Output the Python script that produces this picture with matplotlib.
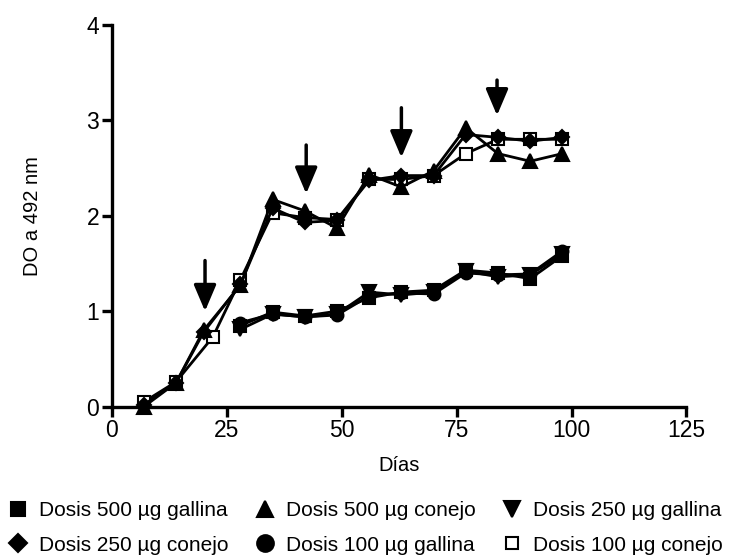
import matplotlib
matplotlib.use("Agg")
import matplotlib.pyplot as plt
from matplotlib.lines import Line2D

plt.rcParams['font.family'] = ['Liberation Sans', 'DejaVu Sans']

# ---- data ----
days_conejo = [7, 14, 20, 28, 35, 42, 49, 56, 63, 70, 77, 84, 91, 98]
days_conejo_100 = [7, 14, 22, 28, 35, 42, 49, 56, 63, 70, 77, 84, 91, 98]
days_gallina = [28, 35, 42, 49, 56, 63, 70, 77, 84, 91, 98]

conejo_500 = [0.00, 0.25, 0.80, 1.27, 2.17, 2.05, 1.87, 2.43, 2.30, 2.47, 2.92, 2.65, 2.57, 2.65]
conejo_250 = [0.02, 0.25, 0.78, 1.28, 2.08, 1.93, 1.95, 2.37, 2.42, 2.42, 2.85, 2.82, 2.78, 2.82]
conejo_100 = [0.05, 0.26, 0.73, 1.33, 2.03, 1.98, 1.96, 2.38, 2.38, 2.42, 2.65, 2.80, 2.80, 2.80]

gallina_500 = [0.85, 0.99, 0.95, 1.00, 1.14, 1.20, 1.22, 1.43, 1.40, 1.34, 1.58]
gallina_250 = [0.81, 0.97, 0.94, 0.97, 1.20, 1.17, 1.20, 1.42, 1.36, 1.38, 1.60]
gallina_100 = [0.88, 0.97, 0.94, 0.96, 1.16, 1.19, 1.18, 1.40, 1.38, 1.39, 1.63]

# booster arrows: day, top, tip
arrow_days = [20.3, 42.3, 63.0, 83.8]
arrow_top = [1.53, 2.74, 3.13, 3.42]
arrow_tip = [1.00, 2.23, 2.61, 3.05]

labels = ["Dosis 500 \u00b5g gallina", "Dosis 500 \u00b5g conejo", "Dosis 250 \u00b5g gallina",
          "Dosis 250 \u00b5g conejo", "Dosis 100 \u00b5g gallina", "Dosis 100 \u00b5g conejo"]

fig = plt.figure(figsize=(7.47, 5.59), dpi=100)
ax = fig.add_axes([0.1495, 0.2725, 0.7695, 0.6833])

series = [
    (days_gallina, gallina_500, 's', 'black', 8.5),
    (days_gallina, gallina_250, 'v', 'black', 9.5),
    (days_gallina, gallina_100, 'o', 'black', 8.5),
    (days_conejo_100, conejo_100, 's', 'white', 8.5),
    (days_conejo, conejo_250, 'D', 'black', 7.5),
    (days_conejo, conejo_500, '^', 'black', 9.5),
]
for x, y, m, fc, ms in series:
    ax.plot(x, y, color='black', lw=2.0, marker=m, markersize=ms,
            markerfacecolor=fc, markeredgecolor='black', markeredgewidth=1.5,
            clip_on=False)

for d, t, b in zip(arrow_days, arrow_top, arrow_tip):
    ax.annotate("", xy=(d, b), xytext=(d, t),
                arrowprops=dict(arrowstyle="-|>,head_length=0.8,head_width=0.34",
                                mutation_scale=20, lw=2.5, color='black',
                                shrinkA=0, shrinkB=0))

ax.set_xlim(0, 125)
ax.set_ylim(0, 4)
ax.set_xticks([0, 25, 50, 75, 100, 125])
ax.set_yticks([0, 1, 2, 3, 4])
for s in ['top', 'right']:
    ax.spines[s].set_visible(False)
for s in ['left', 'bottom']:
    ax.spines[s].set_linewidth(2.4)
ax.tick_params(direction='out', length=7, width=2.4, labelsize=16.5, pad=2)
ax.set_xlabel("D\u00edas", fontsize=14.5, labelpad=10)
ax.set_ylabel("DO a 492 nm", fontsize=14.5, labelpad=32)

# legend, row-major order
def h(m, fc, ms):
    return Line2D([], [], ls='none', marker=m, markersize=ms, markerfacecolor=fc,
                  markeredgecolor='black', markeredgewidth=1.5)

handles = [h('s', 'black', 10), h('^', 'black', 11), h('v', 'black', 11),
           h('D', 'black', 9), h('o', 'black', 12), h('s', 'white', 9)]
order = [0, 3, 1, 4, 2, 5]
fig.legend([handles[i] for i in order], [labels[i] for i in order],
           ncol=3, loc='upper left', bbox_to_anchor=(8 / 747, 1 - 501 / 559),
           frameon=False, fontsize=15, handlelength=1.0, handletextpad=0.5,
           columnspacing=1.25, labelspacing=0.75, borderpad=0, borderaxespad=0)

fig.savefig("out.png", dpi=100)
